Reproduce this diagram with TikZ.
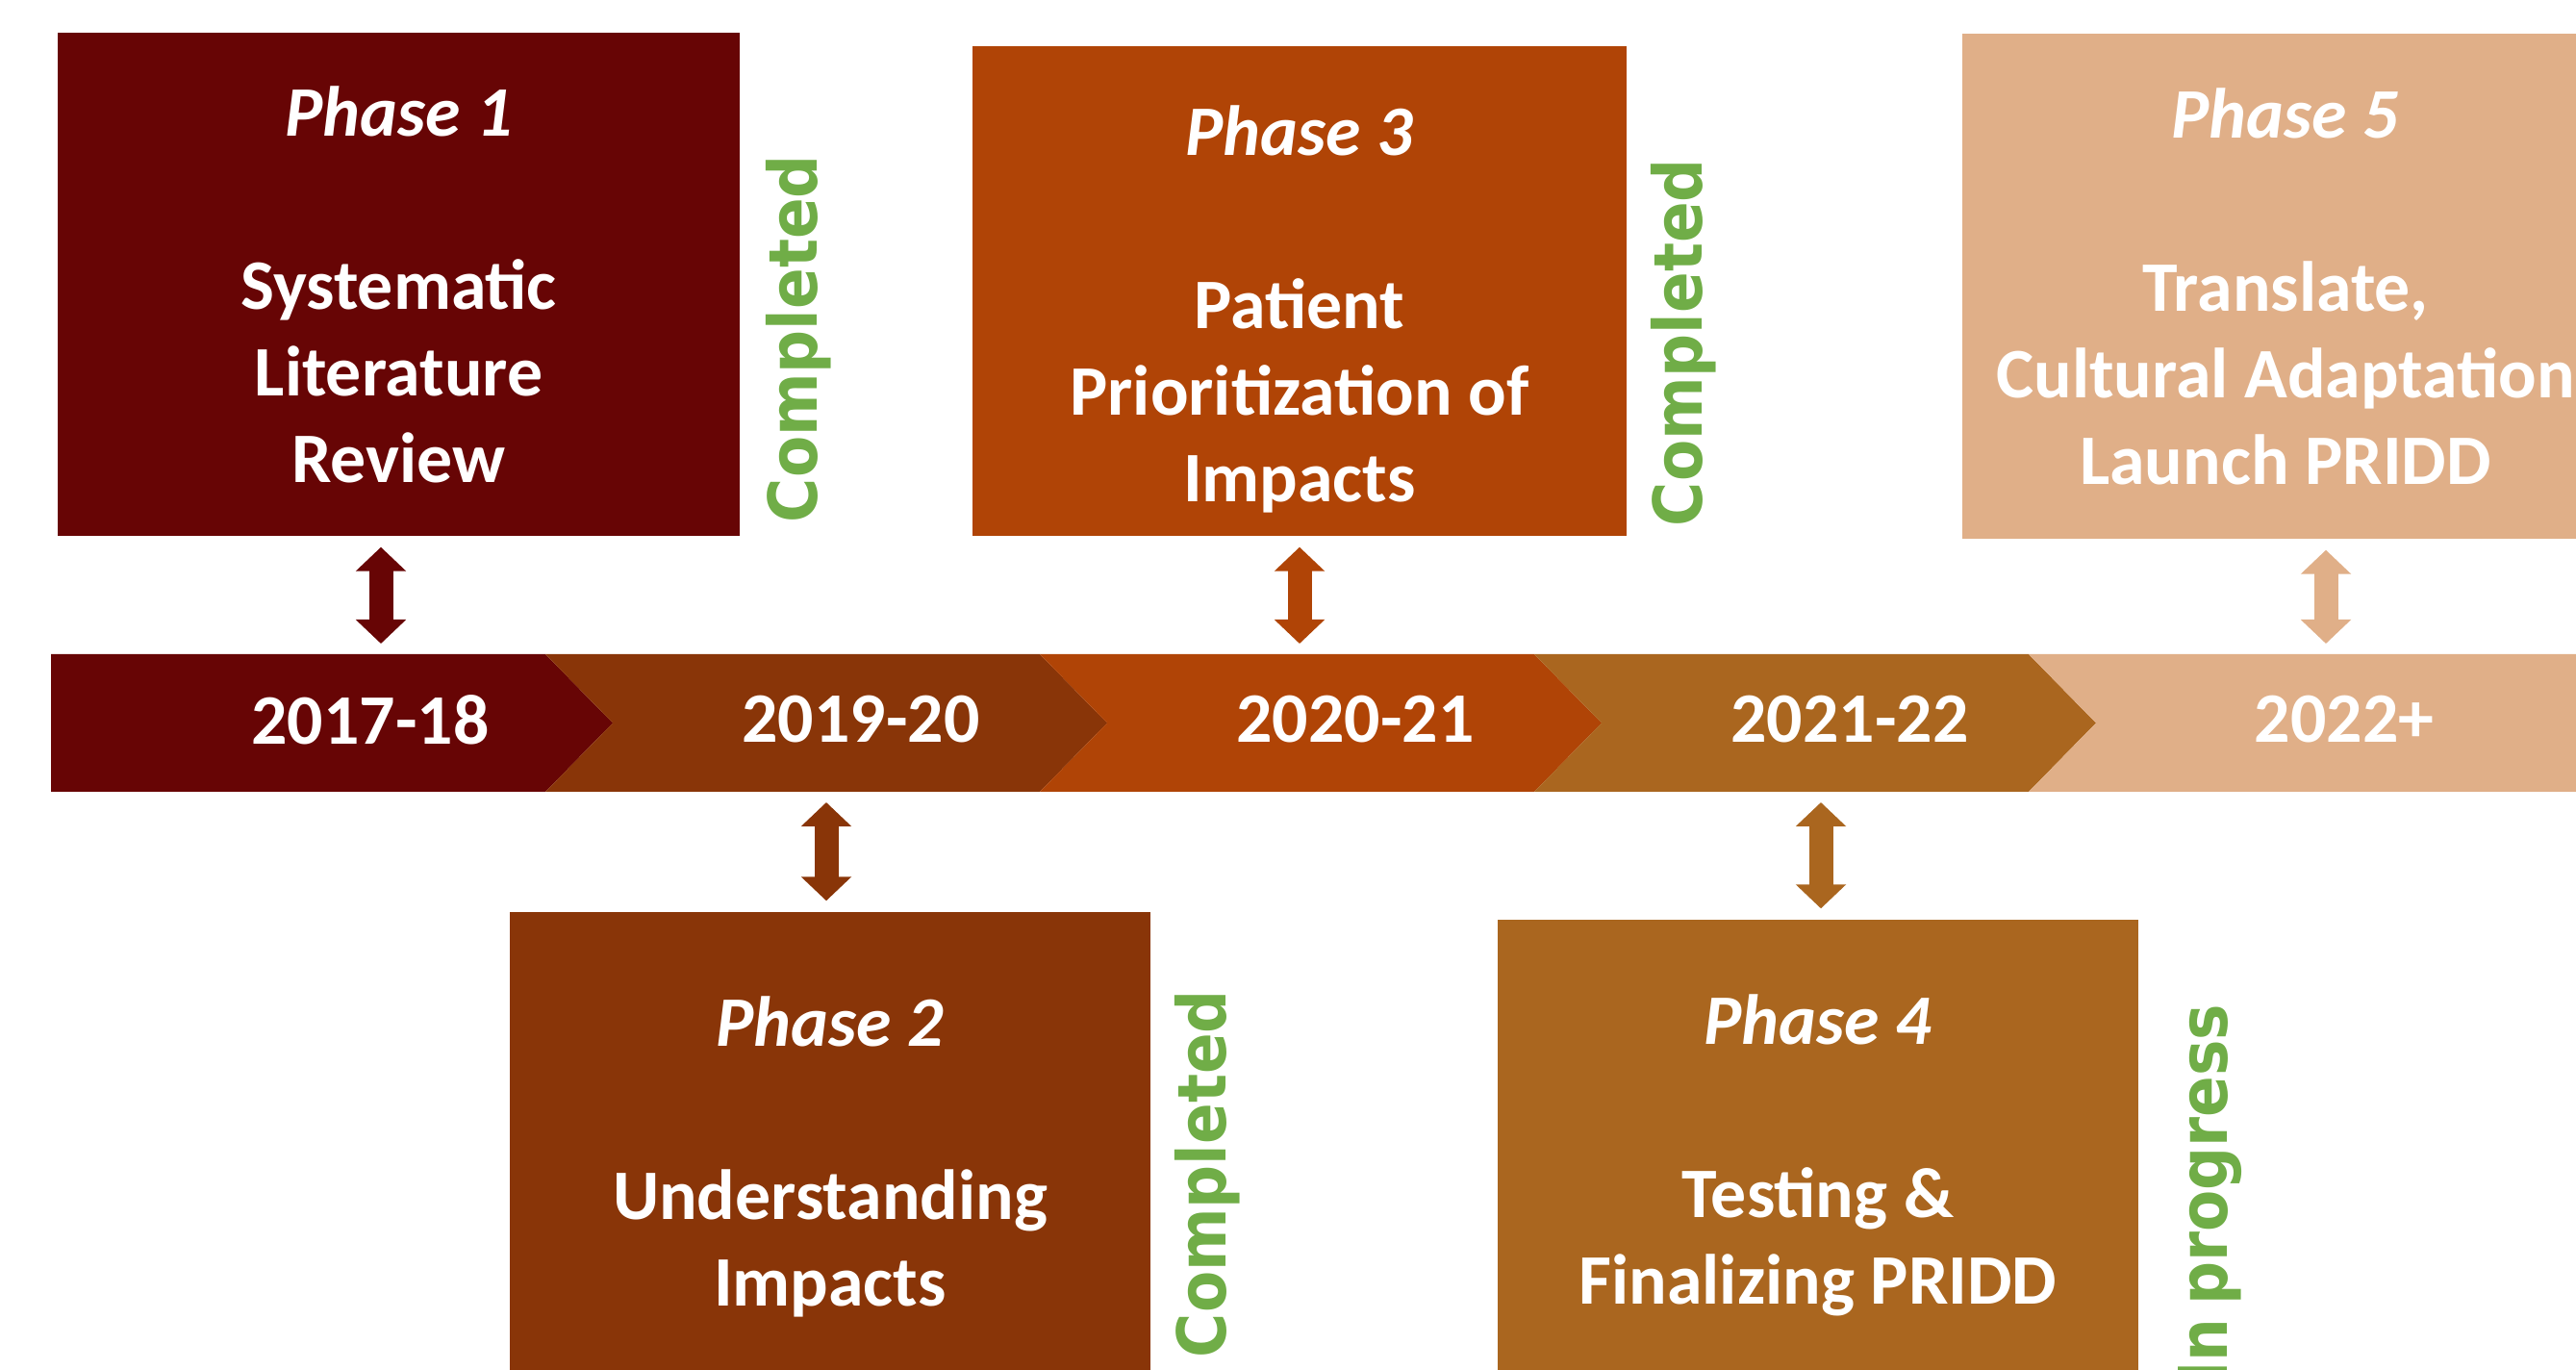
\documentclass[tikz,border=0pt]{standalone}
\usepackage{fontspec}
\setmainfont{Carlito}
\newfontfamily\statusfont{DejaVu Sans Condensed}
\usepackage{xcolor}
\usepackage{tikz}
\usetikzlibrary{
arrows.meta,
calc,
positioning
}
\definecolor{cA}{HTML}{670505}
\definecolor{cB}{HTML}{893508}
\definecolor{cC}{HTML}{B04406}
\definecolor{cD}{HTML}{AA661F}
\definecolor{cE}{HTML}{E0AF88}
\definecolor{cG}{HTML}{70AD47}

\begin{document}
\begin{tikzpicture}
[block_phase/.style ={rectangle, draw=none, fill=#1, text=white, align=center, inner sep=0pt, font=\bfseries\fontsize{21}{25.6}\selectfont},
label_year/.style ={text=white, inner sep=0pt, font=\bfseries\fontsize{21}{25.6}\selectfont},
label_status/.style ={rotate=90, text=cG, inner sep=0pt, font=\statusfont\bfseries\fontsize{19.9}{24}\selectfont},
line_updown/.style ={draw=#1, line width=2.5mm, {Triangle[length=2.5mm,width=5.1mm]}-{Triangle[length=2.5mm,width=5.1mm]}, shorten >=1.1mm, shorten <=1.1mm}]

\useasboundingbox (0,0) rectangle (26.78,-14.24);

%%%%%Zeitleiste%%%%%
\fill[cA] (0.53,-6.80) -- (5.67,-6.80) -- (6.37,-7.515) -- (5.67,-8.23) -- (0.53,-8.23) -- cycle;
\foreach \x/\col in {5.67/cB, 10.81/cC, 15.95/cD}
  \fill[\col] (\x,-6.80) -- ++(5.14,0) -- ++(0.70,-0.715) -- ++(-0.70,-0.715) -- ++(-5.14,0) -- ++(0.70,0.715) -- cycle;
\fill[cE] (21.09,-6.80) -- (27.50,-6.80) -- (27.50,-8.23) -- (21.09,-8.23) -- (21.79,-7.515) -- cycle;

\coordinate (bt) at (0,-6.80);
\coordinate (bb) at (0,-8.23);

\node [label_year] (y1) at (3.85,-7.48) {2017-18};
\node [label_year] (y2) at (8.95,-7.48) {2019-20};
\node [label_year] (y3) at (14.09,-7.48) {2020-21};
\node [label_year] (y4) at (19.23,-7.48) {2021-22};
\node [label_year] (y5) at (24.37,-7.48) {2022+};

%%%%%Phasen oben%%%%%
\node [block_phase=cA, minimum width=7.09cm, minimum height=5.23cm] (p1) at (4.145,-2.955)
 {\textit{Phase 1}\\[25.6pt]Systematic\\Literature\\Review};
\node [block_phase=cC, minimum width=6.80cm, minimum height=5.09cm] (p3) at (13.51,-3.025)
 {\rule{0pt}{9mm}\textit{Phase 3}\\[25.6pt]Patient\\Prioritization of\\Impacts};
\node [block_phase=cE, minimum width=6.72cm, minimum height=5.25cm] (p5) at (23.76,-2.975)
 {\textit{Phase 5}\\[25.6pt]Translate,\\Cultural Adaptation\\Launch PRIDD};

%%%%%Phasen unten%%%%%
\node [block_phase=cB, minimum width=6.66cm, minimum height=5.08cm] (p2) at (8.63,-12.02)
 {\textit{Phase 2}\\[25.6pt]Understanding\\Impacts};
\node [block_phase=cD, minimum width=6.66cm, minimum height=4.90cm] (p4) at (18.90,-12.01)
 {\textit{Phase 4}\\[25.6pt]Testing \&\\Finalizing PRIDD};

%Status
\node [label_status] (s1) at (8.30,-3.52) {Completed};
\node [label_status] (s3) at (17.50,-3.56) {Completed};
\node [label_status] (s2) at (12.55,-12.20) {Completed};
\node [label_status, anchor=east] (s4) at (22.98,-10.43) {In\kern-0.12em\ progress};

%Pfeile Phase - Zeitleiste
\coordinate (a1) at ([xshift=-1.85mm]p1.south);
\coordinate (a3) at (p3.south);
\coordinate (a5) at ([xshift=4.2mm]p5.south);
\coordinate (a2) at ([xshift=-0.4mm]p2.north);
\coordinate (a4) at ([xshift=0.3mm]p4.north);

 \draw [line_updown=cA] (a1) -- (a1 |- bt);
 \draw [line_updown=cC] (a3) -- (a3 |- bt);
 \draw [line_updown=cE] (a5) -- (a5 |- bt);
 \draw [line_updown=cB] (a2) -- (a2 |- bb);
 \draw [line_updown=cD] (a4) -- (a4 |- bb);

\end{tikzpicture}
\end{document}
